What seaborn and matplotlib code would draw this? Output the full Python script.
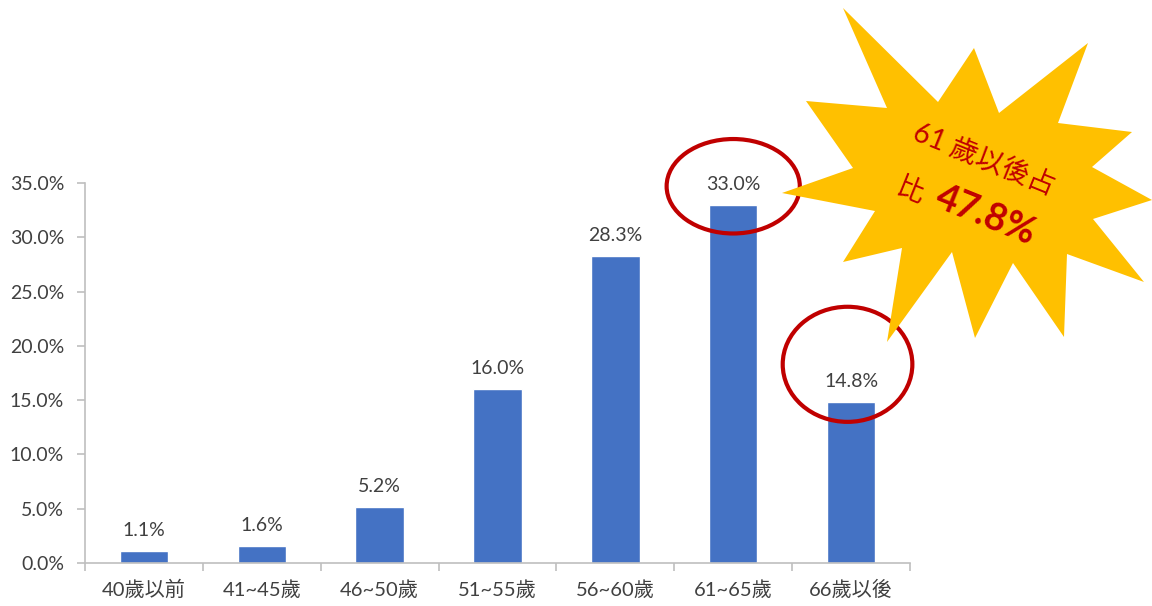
import numpy as np
import pandas as pd
import seaborn as sns
import matplotlib.pyplot as plt
from matplotlib.patches import Ellipse, Polygon
from matplotlib.ticker import FuncFormatter

# data
age_groups = ["40歲以前", "41~45歲", "46~50歲", "51~55歲", "56~60歲", "61~65歲", "66歲以後"]
shares = [1.1, 1.6, 5.2, 16.0, 28.3, 33.0, 14.8]
y_ticks = [0, 5, 10, 15, 20, 25, 30, 35]
callout_line1 = "61 歲以後占"
callout_word = "比"
callout_total = "47.8%"

W, H = 1152, 606
sns.set_theme(style="white")
plt.rcParams["font.family"] = ["Lato", "Noto Sans CJK TC", "DejaVu Sans"]

df = pd.DataFrame({"age": age_groups, "share": shares})

fig = plt.figure(figsize=(W / 100, H / 100), dpi=100)
ax = fig.add_axes([85 / W, 1 - 563 / H, 825 / W, 380 / H])

sns.barplot(data=df, x="age", y="share", color="#4472C4", width=0.41,
            saturation=1, ax=ax)

for i, v in enumerate(shares):
    ax.text(i, v + 1.1, f"{v:.1f}%", ha="center", va="bottom",
            fontsize=14, color="#404040")

ax.set_ylim(0, 35)
ax.set_xlim(-0.5, len(age_groups) - 0.5)
ax.set_yticks(y_ticks)
ax.yaxis.set_major_formatter(FuncFormatter(lambda v, _: f"{v:.1f}%"))
ax.set_xlabel("")
ax.set_ylabel("")

for side in ["top", "right"]:
    ax.spines[side].set_visible(False)
for side in ["left", "bottom"]:
    ax.spines[side].set_color("#BFBFBF")
    ax.spines[side].set_linewidth(1.2)

ax.tick_params(axis="y", which="major", left=True, length=6, width=1.2,
               color="#BFBFBF", pad=9, labelsize=14, labelcolor="#404040")
ax.tick_params(axis="x", which="major", length=0, pad=12, labelsize=14.5,
               labelcolor="#404040")
ax.set_xticks(np.arange(-0.5, len(age_groups), 1.0), minor=True)
ax.tick_params(axis="x", which="minor", bottom=True, length=6, width=1.2,
               color="#BFBFBF")

# red circles around the last two labels
ax.add_patch(Ellipse((5, 34.7), 1.13, 8.7, fill=False, edgecolor="#C00000",
                     linewidth=3, clip_on=False, zorder=5))
ax.add_patch(Ellipse((5.97, 18.3), 1.10, 10.6, fill=False, edgecolor="#C00000",
                     linewidth=3, clip_on=False, zorder=5))

# starburst callout (figure pixel coords)
star_px = [
    (843, 8), (938, 102), (974, 48), (999, 113), (1088, 43), (1058, 123),
    (1132, 132), (1092, 167), (1152, 200), (1093, 219), (1144, 282),
    (1067, 254), (1064, 337), (1013, 263), (975, 338), (952, 252),
    (887, 342), (902, 248), (843, 262), (875, 211), (782, 193),
    (853, 168), (806, 101), (887, 108),
]
star = Polygon([(x / W, 1 - y / H) for x, y in star_px], closed=True,
               facecolor="#FFC000", edgecolor="none", transform=fig.transFigure,
               zorder=10)
fig.patches.append(star)

fig.text(984 / W, 1 - 161 / H, callout_line1, rotation=-22, ha="center",
         va="center", fontsize=20, color="#C00000", zorder=11,
         rotation_mode="anchor")
fig.text(910 / W, 1 - 191 / H, callout_word, rotation=-22, ha="center",
         va="center", fontsize=20, color="#C00000", zorder=11,
         rotation_mode="anchor")
fig.text(986 / W, 1 - 215 / H, callout_total, rotation=-22, ha="center",
         va="center", fontsize=27, fontweight="bold", color="#C00000",
         zorder=11, rotation_mode="anchor")

fig.savefig("out.png", dpi=100)
